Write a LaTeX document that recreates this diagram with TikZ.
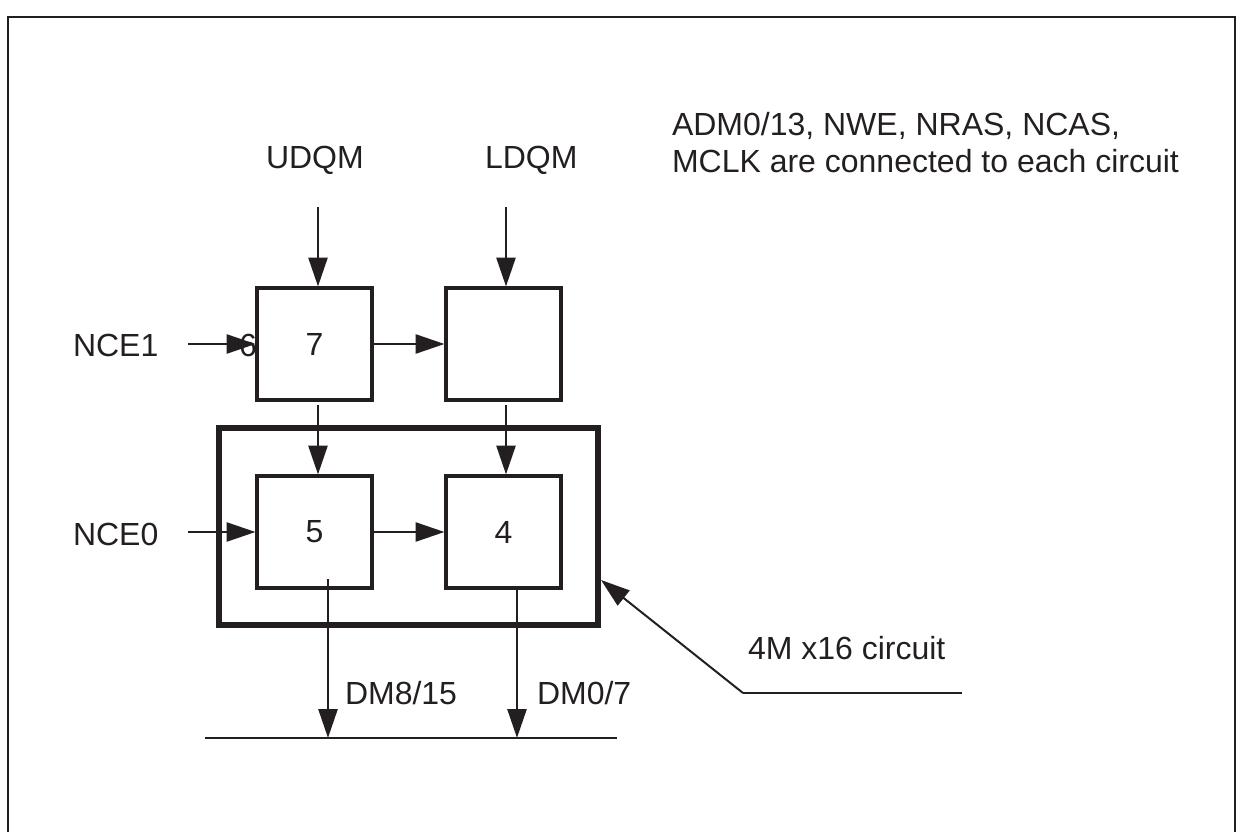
\documentclass[tikz,border=0pt]{standalone}
\usepackage{fontspec}
\setmainfont{Liberation Sans}
\usetikzlibrary{arrows.meta,calc}
\definecolor{ink}{HTML}{231F20}
\begin{document}
\begin{tikzpicture}[x=1pt,y=-1pt,
  box/.style={draw=ink,line width=3.5pt,minimum width=115pt,minimum height=112pt,inner sep=0pt,outer sep=0pt,text=ink,font=\fontsize{32}{32}\selectfont},
  bigbox/.style={draw=ink,line width=6.5pt,minimum width=379pt,minimum height=197pt,inner sep=0pt,outer sep=0pt},
  lbl/.style={font=\fontsize{32}{38}\selectfont,text=ink,inner sep=0pt,outer sep=0pt},
  arr/.style={draw=ink,line width=2.7pt,-{Triangle[length=29pt,width=19pt]}},
  thin/.style={draw=ink,line width=2pt},
]
\useasboundingbox (0,0) rectangle (1240,832);
% frame
\draw[ink,line width=2.6pt,line join=miter] (8,840) -- (8,17) -- (1235,17) -- (1235,840);

% boxes
\node[box] (b7) at (314.5,344) {7};
\node[box] (bL) at (503.5,344) {};
\node[box] (b5) at (314.5,532) {5};
\node[box] (b4) at (503.5,532) {4};
\node[bigbox] (big) at (408.5,526.5) {};

% labels
\node[lbl,anchor=base west] (udqm) at (266,168) {UDQM};
\node[lbl,anchor=base west] (ldqm) at (485,168) {LDQM};
\node[lbl,anchor=base west] (nce1) at (73,356) {NCE1};
\node[lbl,anchor=base west] (nce0) at (73,545) {NCE0};
\node[lbl,anchor=base east] (six) at (257,356) {6};
\node[lbl,anchor=base west] (dm815) at (345,704) {DM8/15};
\node[lbl,anchor=base west] (dm07) at (537,704) {DM0/7};
\node[lbl,anchor=base west] (circ) at (748,659) {4M x16 circuit};
\node[lbl,anchor=base west] (note1) at (672,136) {ADM0/13, NWE, NRAS, NCAS,};
\node[lbl,anchor=base west] (note2) at (672,172) {MCLK are connected to each circuit};

% free ends
\coordinate (u0) at (318,207);
\coordinate (l0) at (506,207);
\coordinate (n1) at (188,344);
\coordinate (n0) at (188,532);
\coordinate (busL) at (205,738);
\coordinate (busR) at (617,738);
\coordinate (d5) at (328,579);
\coordinate (d4) at (517,586);
\coordinate (lead) at (743,693);
\coordinate (leadR) at (962,693);
\coordinate (tipc) at (601,580);

% connectors
\draw[arr,shorten >=1.5pt] (u0) -- (u0 |- b7.north);
\draw[arr,shorten >=1.5pt] (l0) -- (l0 |- bL.north);
\draw[arr,shorten >=1.5pt] (n1) -- (b7.west);
\draw[arr,shorten >=1.5pt] (b7.east) -- (bL.west);
\draw[arr,shorten >=1.5pt] ([yshift=-5pt]b7.south -| u0) -- (u0 |- b5.north);
\draw[arr,shorten >=1.5pt] ([yshift=-5pt]bL.south -| l0) -- (l0 |- b4.north);
\draw[arr,shorten >=1.5pt] (n0) -- (b5.west);
\draw[arr,shorten >=1.5pt] (b5.east) -- (b4.west);
\draw[ink,line width=2.6pt] (busL) -- (busR);
\draw[arr] (d5) -- (d5 |- busL);
\draw[arr] (d4) -- (d4 |- busL);
\draw[thin] (leadR) -- (lead);
\draw[thin,-{Triangle[length=29pt,width=19pt]}] (lead) -- (tipc);
\end{tikzpicture}
\end{document}
